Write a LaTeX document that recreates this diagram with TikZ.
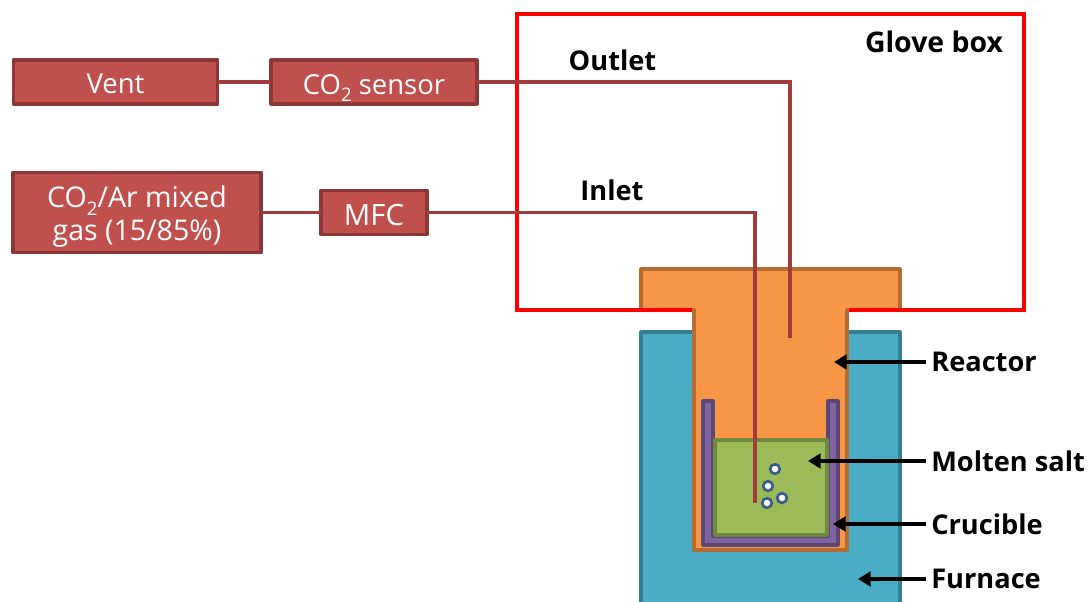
\documentclass[tikz,border=0pt]{standalone}
\usepackage{fontspec}
\setmainfont{Open Sans}
\usetikzlibrary{arrows.meta}
\definecolor{boxfill}{HTML}{C0504D}
\definecolor{boxline}{HTML}{8C3836}
\definecolor{pipe}{HTML}{A23B3B}
\definecolor{orangefill}{HTML}{F79646}
\definecolor{orangeline}{HTML}{B66D31}
\definecolor{bluefill}{HTML}{4BACC6}
\definecolor{blueline}{HTML}{357D91}
\definecolor{greenfill}{HTML}{9BBB59}
\definecolor{greenline}{HTML}{71893F}
\definecolor{purplefill}{HTML}{8064A2}
\definecolor{purpleline}{HTML}{5C4776}
\definecolor{bubbleline}{HTML}{385D8A}
\newcommand{\lowsub}[1]{\raisebox{-0.28em}{\fontsize{14}{14}\selectfont #1}}
\newcommand{\lowtext}[2][2pt]{\raisebox{-#1}[\height][\depth]{#2}}
\tikzset{
  unit/.style={draw=boxline,fill=boxfill,line width=2.35pt,text=white,inner sep=0pt,outer sep=0pt,
     align=center,font=\fontsize{20.6}{25.5}\selectfont,line join=round},
  pipeline/.style={draw=pipe,line width=2.3pt},
  part/.style={line width=2.4pt,line join=round},
  tag/.style={font=\fontsize{20.4}{24}\selectfont\bfseries,inner sep=0pt,outer sep=0pt,text=black},
  sidetag/.style={tag,anchor=west,inner xsep=3.75pt},
  pointer/.style={draw=black,line width=2.8pt,-{Stealth[length=9.5pt,width=11pt,inset=0pt]}},
  bubble/.style={circle,draw=bubbleline,fill=white,line width=2pt,minimum size=7.2pt,inner sep=0pt}
}
\begin{document}
\begin{tikzpicture}[x=0.75pt,y=-0.75pt]
\useasboundingbox (0,0) rectangle (1090,601);
% furnace
\begin{scope}
\clip (0,0) rectangle (1090,601);
\draw[part,draw=blueline,fill=bluefill] (641,332) rectangle (900,640);
\end{scope}
% reactor
\draw[part,draw=orangeline,fill=orangefill] (641,269) -- (900,269) -- (900,310) -- (847,310) -- (847,550) -- (694,550) -- (694,310) -- (641,310) -- cycle;
% glove box
\draw[red,line width=2.35pt] (692,310) -- (517,310) -- (517,14) -- (1024,14) -- (1024,310) -- (849,310);
% crucible
\draw[part,draw=purpleline,fill=purplefill] (703,401) -- (713,401) -- (713,536) -- (828,536) -- (828,401) -- (838,401) -- (838,545) -- (703,545) -- cycle;
% molten salt
\draw[part,draw=greenline,fill=greenfill] (715,440) rectangle (827,535);
% units
\node[unit,minimum width=153.5pt,minimum height=33pt] (vent) at (115.5,82) {\lowtext[1.3pt]{Vent}};
\node[unit,minimum width=154.5pt,minimum height=33pt] (sensor) at (374,82) {\lowtext[4.5pt]{CO\lowsub{2} sensor}};
\node[unit,minimum width=186pt,minimum height=60.5pt,font=\fontsize{21.4}{25.5}\selectfont] (gas) at (137,212.5) {\lowtext[3.3pt]{CO\lowsub{2}/Ar mixed}\\\lowtext[3pt]{gas (15/85\%)}};
\node[unit,minimum width=79.5pt,minimum height=33.5pt,font=\fontsize{22}{25.5}\selectfont] (mfc) at (374,212.5) {\lowtext{MFC}};
% pipes
\coordinate (outletend) at (790,338);
\coordinate (inletend) at (755,503);
\draw[pipeline] (vent.east) -- (sensor.west);
\draw[pipeline] (gas.east) -- (mfc.west);
\draw[pipeline] (sensor.east) -- (outletend |- sensor.east) -- (outletend);
\draw[pipeline] (mfc.east) -- (inletend |- mfc.east) -- (inletend);
% bubbles
\node[bubble] (b1) at (775,469) {};
\node[bubble] (b2) at (768,486) {};
\node[bubble] (b3) at (782,498) {};
\node[bubble] (b4) at (767,503) {};
% labels
\node[tag,font=\fontsize{21.3}{24}\selectfont\bfseries] (glove) at (934,42) {Glove box};
\node[tag] (outlet) at (612.5,60) {Outlet};
\node[tag] (inlet) at (612,190) {Inlet};
\node[sidetag] (reactor) at (926.3,362) {Reactor};
\node[sidetag] (salt) at (926.3,461) {Molten salt};
\node[sidetag] (crucible) at (926.3,524) {Crucible};
\node[sidetag] (furnace) at (926.3,579) {Furnace};
\coordinate (reactortip) at (834,362);
\coordinate (salttip) at (808,461);
\coordinate (crucibletip) at (833,524);
\coordinate (furnacetip) at (858,579);
\draw[pointer] (reactor.west) -- (reactortip);
\draw[pointer] (salt.west) -- (salttip);
\draw[pointer] (crucible.west) -- (crucibletip);
\draw[pointer] (furnace.west) -- (furnacetip);
\end{tikzpicture}
\end{document}
